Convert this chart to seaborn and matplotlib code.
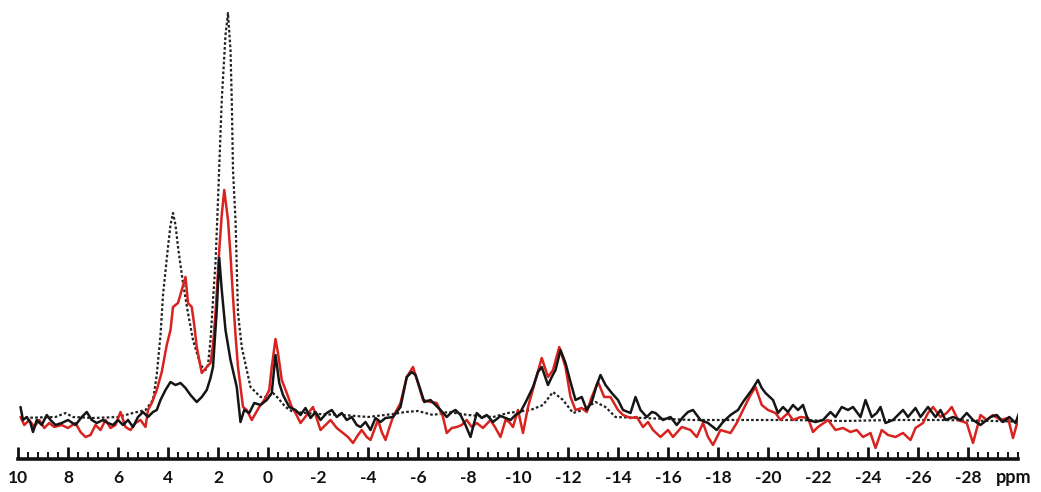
import matplotlib
matplotlib.use("Agg")
import matplotlib.pyplot as plt
import matplotlib.transforms as mtransforms
from matplotlib.ticker import MultipleLocator, FixedLocator
import pandas as pd
import seaborn as sns

# Chemical shift (ppm) and intensity for the solid black spectrum
black_ppm = [9.9, 9.8, 9.65, 9.5, 9.4, 9.25, 9.05, 8.85, 8.7, 8.5, 8.25, 8.0, 7.7, 7.45, 7.25,
             7.05, 6.85, 6.6, 6.4, 6.2, 6.0, 5.8, 5.6, 5.4, 5.2, 5.0, 4.8, 4.6, 4.45, 4.3,
             4.1, 3.9, 3.7, 3.5, 3.3, 3.1, 2.85, 2.65, 2.45, 2.3, 2.2, 2.05, 1.95, 1.85, 1.7,
             1.5, 1.25, 1.1, 0.95, 0.75, 0.55, 0.3, 0.05, -0.15, -0.3, -0.45, -0.6, -0.85, -1.1,
             -1.3, -1.5, -1.7, -1.9, -2.1, -2.35, -2.55, -2.75, -2.95, -3.15, -3.35, -3.55, -3.7,
             -3.9, -4.1, -4.3, -4.5, -4.7, -5.0, -5.3, -5.55, -5.75, -5.9, -6.1, -6.25, -6.5,
             -6.7, -6.9, -7.15, -7.35, -7.5, -7.7, -7.9, -8.1, -8.35, -8.55, -8.75, -9.0, -9.3,
             -9.5, -9.7, -9.9, -10.1, -10.35, -10.6, -10.8, -10.95, -11.1, -11.2, -11.35, -11.5,
             -11.7, -11.9, -12.1, -12.3, -12.55, -12.75, -12.95, -13.15, -13.3, -13.5, -13.75,
             -14.0, -14.2, -14.5, -14.7, -14.9, -15.15, -15.35, -15.5, -15.8, -16.1, -16.35,
             -16.6, -16.8, -17.0, -17.3, -17.6, -17.95, -18.2, -18.5, -18.8, -19.0, -19.35,
             -19.6, -19.75, -19.9, -20.2, -20.4, -20.6, -20.8, -21.0, -21.2, -21.4, -21.6, -21.9,
             -22.2, -22.5, -22.7, -22.95, -23.2, -23.4, -23.7, -23.9, -24.15, -24.35, -24.5,
             -24.7, -25.0, -25.4, -25.6, -25.9, -26.1, -26.4, -26.7, -26.9, -27.1, -27.4, -27.7,
             -27.95, -28.2, -28.5, -28.9, -29.15, -29.4, -29.65, -29.9, -30.1]
black_int = [52, 39, 42, 36, 27, 39, 34, 44, 39, 34, 36, 39, 34, 42, 47,
             39, 36, 39, 36, 34, 39, 34, 39, 32, 42, 47, 42, 47, 49, 59,
             69, 77, 74, 76, 71, 64, 57, 62, 69, 81, 92, 149, 201, 169, 129,
             99, 72, 37, 49, 46, 56, 54, 59, 66, 104, 76, 64, 52, 49,
             44, 51, 41, 47, 39, 46, 49, 42, 46, 39, 42, 34, 32,
             37, 29, 41, 37, 41, 42, 52, 82, 87, 84, 69, 57, 59,
             54, 49, 42, 47, 49, 44, 34, 22, 46, 41, 44, 37, 43,
             41, 39, 44, 47, 59, 72, 87, 92, 81, 74, 82, 89,
             109, 96, 77, 59, 62, 49, 57, 74, 84, 74, 66,
             59, 49, 46, 62, 49, 42, 47, 46, 39, 42, 34,
             42, 47, 49, 39, 36, 29, 37, 44, 49, 57, 69,
             79, 71, 66, 59, 46, 52, 47, 54, 49, 54, 39, 37,
             39, 47, 42, 52, 49, 52, 42, 59, 42, 46, 52,
             36, 39, 49, 42, 51, 42, 52, 42, 49, 39, 42, 39,
             46, 39, 34, 42, 44, 37, 42, 36, 50]

# Solid red spectrum
red_ppm = [9.9, 9.75, 9.55, 9.35, 9.15, 8.95, 8.75, 8.55, 8.25, 8.0, 7.7, 7.5, 7.3, 7.1, 6.9,
           6.7, 6.5, 6.3, 6.1, 5.9, 5.7, 5.5, 5.3, 5.1, 4.9, 4.8, 4.65, 4.45, 4.25, 4.05,
           3.9, 3.8, 3.6, 3.45, 3.3, 3.2, 3.05, 2.95, 2.85, 2.65, 2.45, 2.3, 2.2, 2.1, 1.95,
           1.85, 1.75, 1.6, 1.5, 1.4, 1.3, 1.2, 1.0, 0.85, 0.65, 0.35, 0.15, -0.05, -0.15,
           -0.3, -0.4, -0.55, -0.75, -0.95, -1.1, -1.3, -1.55, -1.8, -2.1, -2.3, -2.5, -2.75,
           -3.0, -3.2, -3.4, -3.6, -3.75, -3.95, -4.1, -4.25, -4.4, -4.55, -4.7, -4.85, -5.0,
           -5.3, -5.55, -5.8, -6.0, -6.2, -6.5, -6.75, -7.0, -7.15, -7.35, -7.55, -7.75, -7.95,
           -8.15, -8.35, -8.6, -8.9, -9.1, -9.3, -9.5, -9.65, -9.8, -10.0, -10.2, -10.4, -10.7,
           -10.95, -11.2, -11.4, -11.65, -11.9, -12.1, -12.3, -12.55, -12.75, -12.95, -13.2,
           -13.45, -13.7, -14.0, -14.2, -14.5, -14.75, -15.0, -15.2, -15.4, -15.7, -16.0,
           -16.2, -16.55, -16.9, -17.15, -17.4, -17.6, -17.8, -18.1, -18.5, -18.75, -19.0,
           -19.3, -19.5, -19.75, -20.0, -20.3, -20.5, -20.8, -21.0, -21.3, -21.6, -21.8, -22.0,
           -22.4, -22.7, -23.0, -23.3, -23.55, -23.8, -24.1, -24.3, -24.55, -24.8, -25.1,
           -25.4, -25.7, -25.9, -26.2, -26.4, -26.6, -26.9, -27.15, -27.35, -27.6, -27.95,
           -28.2, -28.5, -28.75, -29.0, -29.3, -29.6, -29.8, -30.0]
red_int = [42, 34, 39, 32, 39, 31, 36, 32, 34, 31, 36, 27, 22, 24, 34,
           29, 39, 31, 34, 47, 32, 29, 36, 39, 32, 49, 56, 69, 87, 114,
           129, 152, 156, 169, 182, 156, 152, 134, 112, 86, 92, 96, 114, 146, 209,
           244, 269, 239, 204, 162, 124, 92, 52, 49, 39, 52, 59, 69, 92,
           120, 106, 79, 66, 52, 46, 36, 44, 52, 29, 34, 39, 31,
           26, 22, 16, 24, 29, 22, 19, 29, 39, 27, 19, 31, 42,
           56, 82, 92, 76, 59, 57, 56, 42, 26, 31, 32, 34, 39,
           32, 36, 31, 39, 31, 22, 39, 37, 32, 49, 26, 52, 79,
           101, 82, 89, 112, 92, 62, 49, 51, 47, 62, 77,
           62, 62, 49, 44, 41, 42, 32, 37, 29, 22, 29,
           22, 32, 29, 22, 36, 22, 14, 29, 26, 36, 49,
           64, 72, 54, 49, 46, 39, 46, 39, 42, 41, 27, 32,
           39, 29, 31, 27, 29, 22, 26, 11, 29, 24, 22,
           26, 19, 31, 36, 46, 52, 42, 46, 52, 39, 36,
           16, 44, 39, 44, 39, 41, 21, 39]

# Dotted reference spectrum
ref_ppm = [9.9, 8.5, 8.1, 7.8, 7.0, 6.0, 5.4, 4.9, 4.6, 4.45, 4.3, 4.2, 4.0, 3.9, 3.8,
           3.7, 3.6, 3.4, 3.2, 3.0, 2.7, 2.5, 2.4, 2.3, 2.2, 2.1, 2.0, 1.85, 1.7, 1.6,
           1.5, 1.45, 1.4, 1.3, 1.2, 1.05, 0.85, 0.7, 0.3, 0.0, -0.2, -0.4, -0.7, -1.0,
           -2.0, -3.0, -4.0, -5.0, -5.5, -6.0, -6.6, -7.2, -8.0, -9.0, -9.6, -10.5, -11.0,
           -11.4, -11.8, -12.2, -12.6, -13.1, -13.5, -13.9, -15.0, -17.0, -19.0, -21.0,
           -23.0, -25.0, -27.0, -29.0, -30.6]
ref_int = [41, 42, 46, 42, 41, 42, 46, 49, 59, 84, 124, 164, 212, 234, 246,
           234, 212, 176, 146, 119, 94, 89, 94, 119, 159, 196, 259, 359, 424, 446,
           409, 359, 289, 239, 146, 112, 89, 72, 62, 62, 66, 61, 52, 47,
           45, 44, 42, 45, 47, 48, 44, 47, 44, 42, 46, 49, 54,
           67, 59, 46, 49, 57, 52, 42, 41, 39, 39, 39,
           38, 39, 39, 38, 37]

major_ticks = list(range(10, -30, -2))
major_labels = [str(t) for t in major_ticks]

frames = [
    pd.DataFrame({"ppm": ref_ppm, "intensity": ref_int}),
    pd.DataFrame({"ppm": red_ppm, "intensity": red_int}),
    pd.DataFrame({"ppm": black_ppm, "intensity": black_int}),
]

sns.set_style("ticks", {"xtick.direction": "in"})
plt.rcParams["font.family"] = ["Lato", "DejaVu Sans"]

fig = plt.figure(figsize=(10.41, 4.92), dpi=100)
ax = fig.add_axes([18 / 1041, 33 / 492, 1000 / 1041, 459 / 492])

sns.lineplot(data=frames[0], x="ppm", y="intensity", ax=ax, sort=False, estimator=None,
             color="#222222", linewidth=1.6, linestyle=(0, (1.2, 1.0)), zorder=2)
sns.lineplot(data=frames[1], x="ppm", y="intensity", ax=ax, sort=False, estimator=None,
             color="#d8231f", linewidth=1.8, zorder=3)
sns.lineplot(data=frames[2], x="ppm", y="intensity", ax=ax, sort=False, estimator=None,
             color="#151515", linewidth=1.8, zorder=4)

ax.set_xlim(10, -30)
ax.set_ylim(0, 459)
ax.set_xlabel("")
ax.set_ylabel("")
ax.set_yticks([])
for side in ("top", "right", "left"):
    ax.spines[side].set_visible(False)
ax.spines["bottom"].set_linewidth(2.6)
ax.spines["bottom"].set_color("#111111")

ax.xaxis.set_major_locator(FixedLocator(major_ticks))
ax.set_xticklabels(major_labels)
ax.xaxis.set_minor_locator(MultipleLocator(0.4))
ax.tick_params(axis="x", which="both", bottom=True, top=False, direction="in")
ax.tick_params(axis="x", which="major", length=9, width=2.0,
               color="#111111", pad=8, labelsize=12.5, labelcolor="#111111")
ax.tick_params(axis="x", which="minor", length=5, width=1.4, color="#111111")
for lbl in ax.get_xticklabels():
    lbl.set_fontweight("bold")

trans = mtransforms.blended_transform_factory(ax.transData, fig.transFigure)
ax.text(-29.1, 15 / 492, "ppm", transform=trans, ha="left", va="center",
        fontsize=13, fontweight="bold", color="#111111", clip_on=False)

fig.savefig("out.png", dpi=100)
